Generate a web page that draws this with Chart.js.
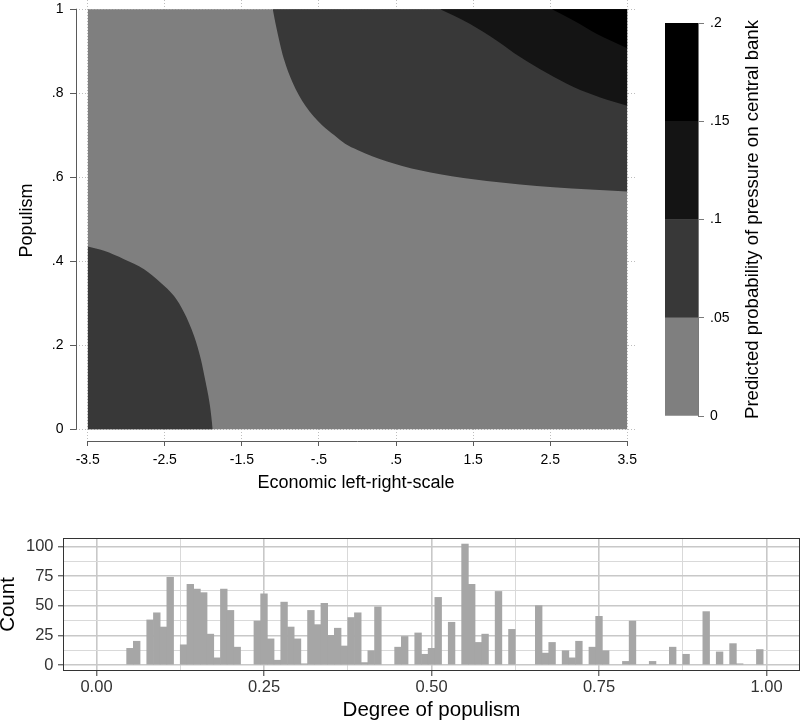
<!DOCTYPE html>
<html>
<head>
<meta charset="utf-8">
<title>Populism and pressure on central banks</title>
<script src="https://cdn.jsdelivr.net/npm/chart.js@4.4.1/dist/chart.umd.min.js"></script>
<style>
  body { margin: 0; background: #fff; }
  #wrap { position: relative; width: 800px; height: 722px; overflow: hidden; }
  canvas { position: absolute; }
  #contour { left: 0; top: 0; }
  #legend { left: 640px; top: 0; }
  #hist { left: 0; top: 505px; }
</style>
</head>
<body>
<div id="wrap">
  <canvas id="contour" width="650" height="500"></canvas>
  <canvas id="legend" width="160" height="460"></canvas>
  <canvas id="hist" width="800" height="217"></canvas>
</div>
<script>
// --- contour plot (economic scale x populism) ---
const econTicks = [-3.5, -2.5, -1.5, -0.5, 0.5, 1.5, 2.5, 3.5];
const populismTicks = [0, 0.2, 0.4, 0.6, 0.8, 1];
const levelBreaks = [0, 0.05, 0.1, 0.15, 0.2];

// .05 contour, lower left corner
const lowX05 = [-3.5, -3.288, -3.029, -2.769, -2.553, -2.38, -2.25, -2.12, -2.033, -1.969, -1.913, -1.878];
const lowY05 = [0.435, 0.425, 0.405, 0.381, 0.349, 0.317, 0.278, 0.222, 0.167, 0.111, 0.055, 0];
// .05 contour, top
const upX05 = [-1.099, -1.065, -1.021, -0.956, -0.848, -0.676, -0.459, -0.3, -0.161, 0, 0.19, 0.579, 1.072, 1.678, 2.543, 3.5];
const upY05 = [1, 0.967, 0.93, 0.882, 0.828, 0.77, 0.724, 0.7, 0.68, 0.665, 0.65, 0.627, 0.607, 0.591, 0.576, 0.566];
// .10 contour
const upX10 = [1.072, 1.461, 1.808, 2.11, 2.457, 2.802, 3.149, 3.5];
const upY10 = [1, 0.965, 0.925, 0.886, 0.848, 0.815, 0.79, 0.77];
// .15 contour
const upX15 = [2.522, 2.802, 3.106, 3.5];
const upY15 = [1, 0.973, 0.941, 0.907];

// --- histogram of populism (bins of .01, empty bins left out) ---
const popBins = [0.05, 0.06, 0.08, 0.09, 0.10, 0.11, 0.13, 0.14, 0.15, 0.16, 0.17, 0.18, 0.19, 0.20, 0.21,
  0.24, 0.25, 0.26, 0.27, 0.28, 0.29, 0.30, 0.31, 0.32, 0.33, 0.34, 0.35, 0.36, 0.37, 0.38, 0.39, 0.40,
  0.41, 0.42, 0.45, 0.46, 0.48, 0.49, 0.50, 0.51, 0.53, 0.55, 0.56, 0.57, 0.58, 0.60, 0.62, 0.66, 0.67,
  0.68, 0.70, 0.71, 0.72, 0.74, 0.75, 0.76, 0.79, 0.80, 0.83, 0.86, 0.88, 0.91, 0.93, 0.95, 0.96, 0.99];
const popCounts = [14, 20, 38, 44, 32, 74, 17, 68, 64, 61, 26, 6, 64, 46, 15,
  37, 60, 22, 4, 53, 32, 22, 1, 46, 34, 52, 25, 31, 16, 40, 44, 2,
  12, 49, 15, 24, 27, 9, 14, 57, 36, 102, 68, 19, 26, 62, 30, 50, 10,
  19, 12, 6, 20, 15, 41, 12, 3, 37, 3, 15, 9, 45, 11, 18, 1, 13];
const popTicks = [0, 0.25, 0.5, 0.75, 1];
const popMinor = [0.125, 0.375, 0.625, 0.875];
const countTicks = [0, 25, 50, 75, 100];
const countMinor = [12.5, 37.5, 62.5, 87.5];

const legendTitle = 'Predicted probability of pressure on central bank';
const levelColors = ['#7f7f7f', '#383838', '#141414', '#000000'];

const FONT = '"Liberation Sans", Arial, Helvetica, sans-serif';
Chart.defaults.font.family = FONT;
Chart.defaults.color = '#000';

const toPts = (xs, ys) => xs.map((x, i) => ({ x, y: ys[i] }));
const stata = v => String(+Number(v).toFixed(2)).replace(/^(-?)0\./, '$1.');
const withMinor = (major, minor) =>
  major.map(value => ({ value, major: true }))
    .concat(minor.map(value => ({ value, major: false })))
    .sort((a, b) => a.value - b.value);

const layer = (xs, ys, color, fillTo, order) => ({
  data: toPts(xs, ys),
  fill: { value: fillTo },
  backgroundColor: color,
  borderColor: 'rgba(0,0,0,0)',
  borderWidth: 0,
  pointRadius: 0,
  cubicInterpolationMode: 'monotone',
  order
});

// stata draws axis lines only over the tick range
const stataAxes = {
  id: 'stataAxes',
  afterDraw(chart) {
    const { ctx, chartArea: a, scales: { x, y } } = chart;
    ctx.save();
    ctx.strokeStyle = '#5a5a5a';
    ctx.lineWidth = 1;
    ctx.beginPath();
    const yb = Math.round(a.bottom) + 0.5;
    ctx.moveTo(x.getPixelForValue(econTicks[0]) - 0.5, yb);
    ctx.lineTo(x.getPixelForValue(econTicks[econTicks.length - 1]) + 0.5, yb);
    const xl = Math.round(a.left) + 0.5;
    ctx.moveTo(xl, y.getPixelForValue(populismTicks[0]) + 0.5);
    ctx.lineTo(xl, y.getPixelForValue(populismTicks[populismTicks.length - 1]) - 0.5);
    ctx.stroke();
    ctx.restore();
  }
};

new Chart(document.getElementById('contour'), {
  type: 'line',
  data: {
    datasets: [
      layer([econTicks[0], econTicks[econTicks.length - 1]], [1, 1], levelColors[0], 0, 5),
      layer(lowX05, lowY05, levelColors[1], 0, 4),
      layer(upX05, upY05, levelColors[1], 1, 3),
      layer(upX10, upY10, levelColors[2], 1, 2),
      layer(upX15, upY15, levelColors[3], 1, 1)
    ]
  },
  options: {
    responsive: false,
    animation: false,
    events: [],
    layout: { padding: { top: 0, right: 14, bottom: 0, left: 0 } },
    plugins: { legend: { display: false }, tooltip: { enabled: false } },
    scales: {
      x: {
        type: 'linear',
        min: -3.652,
        max: 3.613,
        afterBuildTicks: s => { s.ticks = econTicks.map(value => ({ value })); },
        afterFit: s => { s.height = 59; s.paddingLeft = 0; s.paddingRight = 0; },
        ticks: { autoSkip: false, maxRotation: 0, padding: 5.5, font: { size: 14 }, color: '#000', callback: v => stata(v) },
        grid: { color: '#bdbdbd', lineWidth: 1, tickLength: 5, tickColor: '#5a5a5a', tickWidth: 1 },
        border: { display: false, dash: [1, 2] },
        title: { display: true, text: 'Economic left-right-scale', font: { size: 18 }, color: '#000', padding: { top: 0, bottom: 6 } }
      },
      y: {
        type: 'linear',
        min: -0.028,
        max: 1.022,
        afterBuildTicks: s => { s.ticks = populismTicks.map(value => ({ value })); },
        afterFit: s => { s.width = 76; s.paddingTop = 0; s.paddingBottom = 0; },
        ticks: { autoSkip: false, padding: 6.5, font: { size: 14 }, color: '#000', callback: v => stata(v) },
        grid: { color: '#bdbdbd', lineWidth: 1, tickLength: 6, tickColor: '#5a5a5a', tickWidth: 1 },
        border: { display: false, dash: [1, 2] },
        title: { display: true, text: 'Populism', font: { size: 18 }, color: '#000', padding: { top: 16, bottom: 0 } }
      }
    }
  },
  plugins: [stataAxes]
});

// colour scale legend
const colorbarTitle = {
  id: 'colorbarTitle',
  afterDraw(chart) {
    const { ctx, chartArea: a } = chart;
    ctx.save();
    ctx.translate(113, (a.top + a.bottom) / 2);
    ctx.rotate(-Math.PI / 2);
    ctx.font = '18.6px ' + FONT;
    ctx.fillStyle = '#000';
    ctx.textAlign = 'center';
    ctx.textBaseline = 'middle';
    ctx.fillText(legendTitle, 0, 0);
    ctx.restore();
  }
};

new Chart(document.getElementById('legend'), {
  type: 'bar',
  data: {
    labels: [''],
    datasets: levelColors.map((c, i) => ({
      data: [[levelBreaks[i], levelBreaks[i + 1]]],
      backgroundColor: c,
      borderWidth: 0,
      barPercentage: 1,
      categoryPercentage: 1,
      grouped: false
    }))
  },
  options: {
    responsive: false,
    animation: false,
    events: [],
    layout: { padding: { left: 25, top: 23, bottom: 44, right: 0 } },
    plugins: { legend: { display: false }, tooltip: { enabled: false } },
    scales: {
      x: { display: false, offset: true },
      y: {
        position: 'right',
        min: 0,
        max: 0.2,
        afterBuildTicks: s => { s.ticks = levelBreaks.map(value => ({ value })); },
        afterFit: s => { s.width = 102; s.paddingTop = 0; s.paddingBottom = 0; },
        ticks: { autoSkip: false, padding: 6, font: { size: 14 }, color: '#000', callback: v => stata(v) },
        grid: { drawOnChartArea: false, tickLength: 6, tickColor: '#7a7a7a' },
        border: { color: '#7a7a7a' }
      }
    }
  },
  plugins: [colorbarTitle]
});

// histogram
const panelBorder = {
  id: 'panelBorder',
  afterDraw(chart) {
    const { ctx, chartArea: a } = chart;
    ctx.save();
    ctx.strokeStyle = '#333';
    ctx.lineWidth = 1;
    ctx.strokeRect(a.left + 0.5, a.top + 0.5, a.right - a.left - 1, a.bottom - a.top - 1);
    ctx.restore();
  }
};

const gridColor = c => (c.tick && c.tick.major ? '#c8c8c8' : '#d9d9d9');
const gridWidth = c => (c.tick && c.tick.major ? 1.6 : 1);
const tickColor = c => (c.tick && c.tick.major ? '#333' : 'rgba(0,0,0,0)');

new Chart(document.getElementById('hist'), {
  type: 'bar',
  data: {
    datasets: [{
      data: toPts(popBins, popCounts),
      backgroundColor: '#a6a6a6',
      borderWidth: 0,
      barPercentage: 1,
      categoryPercentage: 1
    }]
  },
  options: {
    responsive: false,
    animation: false,
    events: [],
    layout: { padding: { top: 33, right: 0, bottom: 0, left: 0 } },
    plugins: { legend: { display: false }, tooltip: { enabled: false } },
    scales: {
      x: {
        type: 'linear',
        min: -0.05,
        max: 1.05,
        offset: false,
        afterBuildTicks: s => { s.ticks = withMinor(popTicks, popMinor); },
        afterFit: s => { s.height = 51; s.paddingLeft = 0; s.paddingRight = 0; },
        ticks: {
          autoSkip: false, maxRotation: 0, padding: 2, font: { size: 16.5 }, color: '#333',
          callback: (v, i, t) => (t[i].major ? Number(v).toFixed(2) : '')
        },
        grid: { offset: false, color: gridColor, lineWidth: gridWidth, tickLength: 5, tickColor: tickColor, tickWidth: 1 },
        border: { display: false },
        title: { display: true, text: 'Degree of populism', font: { size: 20.5, lineHeight: 1 }, color: '#000', padding: { top: 0, bottom: 1 } }
      },
      y: {
        type: 'linear',
        min: -5.1,
        max: 107.1,
        afterBuildTicks: s => { s.ticks = withMinor(countTicks, countMinor); },
        afterFit: s => { s.width = 63; s.paddingTop = 0; s.paddingBottom = 0; },
        ticks: {
          autoSkip: false, padding: 4.5, font: { size: 16.5 }, color: '#333',
          callback: (v, i, t) => (t[i].major ? String(v) : '')
        },
        grid: { color: gridColor, lineWidth: gridWidth, tickLength: 5, tickColor: tickColor, tickWidth: 1 },
        border: { display: false },
        title: { display: true, text: 'Count', font: { size: 20.5, lineHeight: 1 }, color: '#000', padding: { top: -2, bottom: 0 } }
      }
    }
  },
  plugins: [panelBorder]
});
</script>
</body>
</html>
